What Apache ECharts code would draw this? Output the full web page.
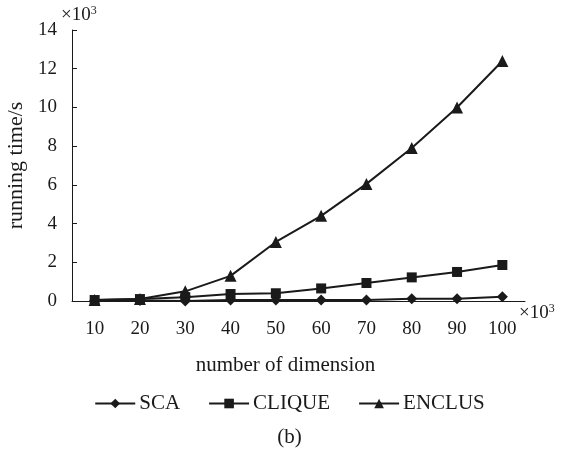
<!DOCTYPE html>
<html><head><meta charset="utf-8">
<script src="https://cdn.jsdelivr.net/npm/echarts@6/dist/echarts.min.js"></script>
<style>html,body{margin:0;padding:0;background:#fff}#c{width:579px;height:453px}</style>
</head><body><div id="c"></div>
<script>
const categories = ['10','20','30','40','50','60','70','80','90','100'];
const sca    = [0.02, 0.03, 0.0, 0.05, 0.05, 0.05, 0.05, 0.12, 0.12, 0.22];
const clique = [0.05, 0.1, 0.2, 0.36, 0.4, 0.65, 0.93, 1.22, 1.5, 1.86];
const enclus = [0.05, 0.1, 0.5, 1.3, 3.05, 4.4, 6.05, 7.9, 10.0, 12.4];
const yTicks = { min: 0, max: 14, interval: 2 };

const font = 'Liberation Serif';
const ink = '#1a1a1a';
function line(name, data, symbol, size) {
  return { name, type: 'line', data, symbol, symbolSize: size, showSymbol: true,
    lineStyle: { color: ink, width: 2 }, itemStyle: { color: ink }, animation: false };
}
const sup = { s: { fontSize: 12, verticalAlign: 'top', fontFamily: font, fill: ink, padding: [0, 0, 8, 0] } };
const chart = echarts.init(document.getElementById('c'));
chart.setOption({
  animation: false,
  grid: { left: 72, right: 54, top: 30, bottom: 152, containLabel: false, outerBoundsMode: 'none' },
  xAxis: {
    type: 'category', data: categories, boundaryGap: true,
    name: 'number of dimension', nameLocation: 'middle', nameGap: 54,
    nameTextStyle: { fontFamily: font, fontSize: 21, color: ink, padding: [0, 26, 0, 0] },
    axisLine: { lineStyle: { color: ink, width: 1 } },
    axisTick: { inside: true, length: 5, lineStyle: { color: ink } },
    axisLabel: { fontFamily: font, fontSize: 19, color: ink, margin: 19 },
    splitLine: { show: false }
  },
  yAxis: {
    type: 'value', min: yTicks.min, max: yTicks.max, interval: yTicks.interval,
    name: 'running time/s', nameLocation: 'middle', nameGap: 38, nameRotate: 90,
    nameTextStyle: { fontFamily: font, fontSize: 22, color: ink },
    axisLine: { show: true, lineStyle: { color: ink, width: 1 } },
    axisTick: { show: true, inside: true, length: 5, lineStyle: { color: ink } },
    axisLabel: { fontFamily: font, fontSize: 19, color: ink, margin: 15 },
    splitLine: { show: false }
  },
  legend: {
    top: 388, left: 'center',
    itemWidth: 40, itemHeight: 12, itemGap: 28,
    textStyle: { fontFamily: font, fontSize: 21, color: ink, padding: [0, 0, 0, -1] },
    data: ['SCA', 'CLIQUE', 'ENCLUS']
  },
  graphic: [
    { type: 'text', left: 61, top: 5, style: { text: '×10{s|3}', rich: sup, font: '19px "Liberation Serif"', fill: ink } },
    { type: 'text', left: 519, top: 303, style: { text: '×10{s|3}', rich: sup, font: '19px "Liberation Serif"', fill: ink } },
    { type: 'text', left: 'center', top: 427, style: { text: '(b)', font: '21px "Liberation Serif"', fill: ink } }
  ],
  series: [
    line('SCA', sca, 'diamond', 11),
    line('CLIQUE', clique, 'rect', 10),
    line('ENCLUS', enclus, 'triangle', 12)
  ]
});
</script></body></html>
